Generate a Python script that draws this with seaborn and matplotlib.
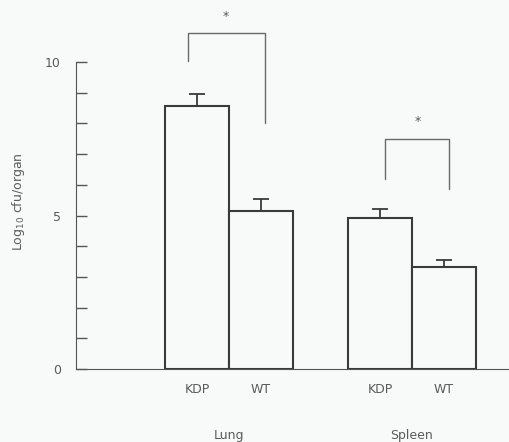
import numpy as np
import pandas as pd
import matplotlib
matplotlib.use("Agg")
import matplotlib.pyplot as plt
import seaborn as sns

organs = ["Lung", "Lung", "Spleen", "Spleen"]
strains = ["KDP", "WT", "KDP", "WT"]
log_cfu = [8.56, 5.14, 4.93, 3.33]
sem = [0.41, 0.40, 0.27, 0.22]

# significance brackets: organ index, bar top, left drop, right drop, star y
brackets = [
    (0, 10.94, 10.03, 8.01, 11.47),
    (1, 7.48, 6.19, 5.85, 8.06),
]
bracket_shift = [(-0.05, 0.02), (0.03, 0.03)]

df = pd.DataFrame({"organ": organs, "strain": strains, "val": log_cfu, "sem": sem})

sns.set_style("white")
plt.rcParams["font.family"] = ["DejaVu Sans"]
bg = "#f8f9f9"
line_c = "#3a3a3a"
text_c = "#5a5a5a"

fig = plt.figure(figsize=(5.1, 4.42), dpi=100, facecolor=bg)
ax = fig.add_axes([76 / 510, 73 / 442, 434 / 510, 369 / 442], facecolor=bg)

sns.barplot(data=df, x="organ", y="val", hue="strain", order=["Lung", "Spleen"],
            hue_order=["KDP", "WT"], width=0.7, gap=0, errorbar=None,
            palette=[bg, bg], edgecolor=line_c, linewidth=1.5,
            legend=False, ax=ax)

# error bars (upper only) at the bar centres seaborn placed
bars = sorted(ax.patches, key=lambda p: p.get_x())
xs = [b.get_x() + b.get_width() / 2 for b in bars]
ax.errorbar(xs, log_cfu, yerr=[np.zeros(len(sem)), sem], fmt="none",
            ecolor=line_c, elinewidth=1.3, capsize=6, capthick=1.3)

# brackets
for (gi, top, ldrop, rdrop, star_y), (dl, dr) in zip(brackets, bracket_shift):
    xl = xs[gi * 2] + dl
    xr = xs[gi * 2 + 1] + dr
    ax.plot([xl, xl, xr, xr], [ldrop, top, top, rdrop], color="#6a6a6a", lw=1.0,
            clip_on=False)
    ax.text((xl + xr) / 2, star_y, "*", ha="center", va="center", color=text_c,
            fontsize=9)

ax.set_xlim(-0.836, 1.536)
ax.set_ylim(0, 12.02)
ax.set_yticks(range(0, 11))
ax.set_yticklabels(["0", "", "", "", "", "5", "", "", "", "", "10"])
ax.tick_params(axis="y", direction="in", length=8, width=1.0, color="#555555",
               labelcolor=text_c, labelsize=9, pad=11, left=True)
ax.spines["left"].set_bounds(0, 10)
ax.spines["left"].set_color("#555555")
ax.spines["bottom"].set_color("#555555")
ax.spines["top"].set_visible(False)
ax.spines["right"].set_visible(False)

# strain labels under each bar, organ labels under each group
ax.set_xticks(xs)
ax.set_xticklabels(strains)
ax.tick_params(axis="x", length=0, labelcolor=text_c, labelsize=9, pad=10)
for gi, organ in enumerate(["Lung", "Spleen"]):
    ax.text((xs[gi * 2] + xs[gi * 2 + 1]) / 2, -2.15, organ, ha="center",
            va="center", color=text_c, fontsize=9, clip_on=False)

ax.set_xlabel("")
ax.set_ylabel(r"Log$_{10}$ cfu/organ", color=text_c, fontsize=9)
ax.yaxis.set_label_coords(-0.112, 0.453)

fig.savefig("out.png", dpi=100, facecolor=bg)
